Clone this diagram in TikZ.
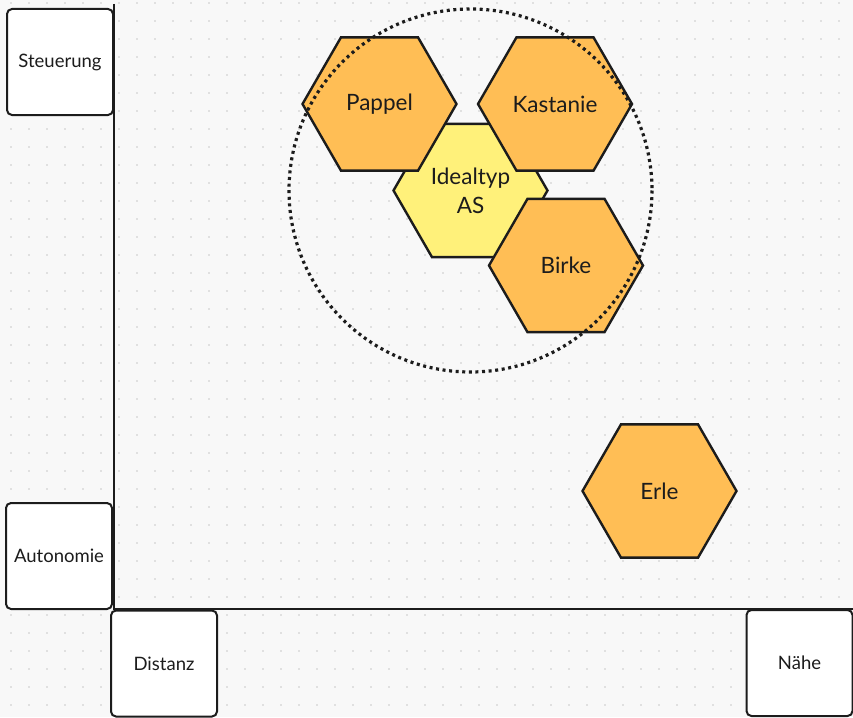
\documentclass[tikz,border=0pt]{standalone}
\usepackage{fontspec}
\setmainfont{Lato}
\usepackage{tikz}
\usetikzlibrary{shapes.geometric}
\definecolor{Paper}{RGB}{248,248,248}
\definecolor{Grid}{RGB}{200,200,200}
\definecolor{Ink}{RGB}{28,28,28}
\definecolor{Tree}{RGB}{255,190,85}
\definecolor{Ideal}{RGB}{255,241,122}
\tikzset{
  hexbase/.style={regular polygon,regular polygon sides=6,minimum size=154pt,inner sep=0pt,draw=Ink,line width=2.4pt,align=center,text=Ink,font=\fontsize{22.5}{29}\selectfont},
  hexorange/.style={hexbase,fill=Tree},
  hexyellow/.style={hexbase,fill=Ideal},
  axbox/.style={rectangle,rounded corners=5pt,draw=Ink,line width=2pt,fill=white,minimum width=106pt,minimum height=106pt,inner sep=0pt,text=Ink,font=\fontsize{18.5}{22}\selectfont},
  axline/.style={draw=Ink,line width=1.8pt},
  ringdot/.style={draw=Ink,line width=3.2pt,dash pattern=on 3pt off 3.6pt}
}

\begin{document}
\begin{tikzpicture}[x=1pt,y=-1pt]
\useasboundingbox (0,0) rectangle (853,717);
\fill[Paper] (0,0) rectangle (853,717);
% dot grid
\foreach \i in {0,...,46} {
  \foreach \j in {0,...,39} {
    \fill[Grid] (11+18*\i,3+18*\j) circle (0.9pt);
  }
}
% axes
\coordinate (top) at (114,4);
\coordinate (origin) at (114,609);
\coordinate (far) at (853,609);
\draw[axline] (top) -- (origin) -- (far);
% axis labels
\node[axbox] (steu) at (60,62) {Steuerung};
\node[axbox] (auto) at (59,556) {Autonomie};
\node[axbox] (dist) at (164,663.5) {Distanz};
\node[axbox] (naehe) at (799.5,663) {Nähe};
% hexagons
\node[hexyellow] (ideal) at (470.5,190.5) {Idealtyp\\AS};
\node[hexorange] (pappel) at (379.5,104) {Pappel};
\node[hexorange] (kast) at (555,104) {Kastanie};
\node[hexorange] (birke) at (566,265.5) {Birke};
\node[hexorange] (erle) at (659.5,491) {Erle};
% dotted ring round the ideal type
\draw[ringdot] (ideal.center) circle (181.5);
\end{tikzpicture}
\end{document}
